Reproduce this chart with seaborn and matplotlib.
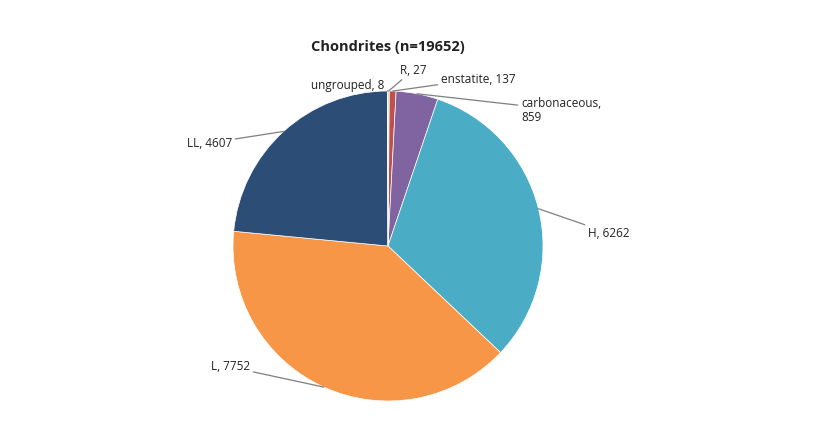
import numpy as np
import matplotlib
matplotlib.use("Agg")
import matplotlib.pyplot as plt
import seaborn as sns

sns.set_theme(style="white")
plt.rcParams['font.family'] = ['Open Sans', 'DejaVu Sans']

labels = ["R", "enstatite", "carbonaceous", "H", "L", "LL", "ungrouped"]
values = [27, 137, 859, 6262, 7752, 4607, 8]
colors = ["#9bbb59", "#c0504d", "#8064a2", "#4bacc6", "#f79646", "#2c4d75", "#7f7f7f"]
label_texts = ["R, 27", "enstatite, 137", "carbonaceous,\n859", "H, 6262", "L, 7752", "LL, 4607", "ungrouped, 8"]
# text anchor positions (pixels) and alignment
text_pos = [(400, 70, "left"), (441, 79, "left"), (521, 110, "left"), (588, 233, "left"),
            (250, 367, "right"), (232, 143, "right"), (384, 85, "right")]

fig = plt.figure(figsize=(8.2, 4.4), dpi=100)
ax = fig.add_axes([0, 0, 1, 1])
ax.set_xlim(0, 820); ax.set_ylim(0, 440); ax.set_aspect("equal"); ax.axis("off")
cx, cy, r = 388, 440 - 246, 155
ax.pie(values, colors=colors, startangle=90, counterclock=False, center=(cx, cy), radius=r,
       wedgeprops=dict(linewidth=0.5, edgecolor="white"))
ax.set_xlim(0, 820); ax.set_ylim(0, 440)

total = sum(values)
cum = np.cumsum([0] + values)
for i, t in enumerate(label_texts):
    mid = 90 - 360 * (cum[i] + values[i] / 2) / total
    a = np.deg2rad(mid)
    px, py = cx + r * np.cos(a), cy + r * np.sin(a)
    tx, ty, ha = text_pos[i]
    ax.annotate(t, xy=(px, py), xytext=(tx, 440 - ty), ha=ha, va="center", fontsize=8.5,
                color="#222222", linespacing=1.1,
                arrowprops=dict(arrowstyle="-", color="#7f7f7f", lw=0.9, shrinkA=0, shrinkB=0))
ax.text(388, 440 - 47, "Chondrites (n=19652)", ha="center", va="center", fontsize=10.5,
        fontweight="bold", color="#222222")
fig.savefig("out.png", dpi=100)
